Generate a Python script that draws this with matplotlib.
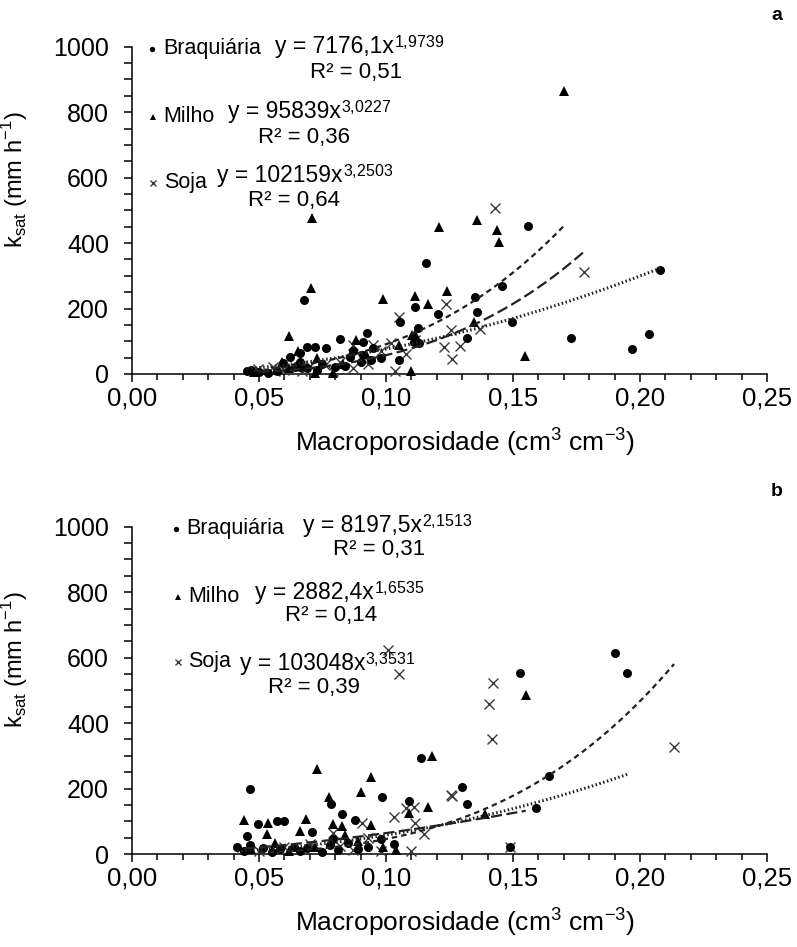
import matplotlib
matplotlib.use('Agg')
import matplotlib.pyplot as plt
import numpy as np
from matplotlib.ticker import MultipleLocator, FuncFormatter

plt.rcParams['font.family'] = ['Liberation Sans', 'DejaVu Sans']

# ---- data, panel a ----
brac_a_x = [0.208, 0.156, 0.1455, 0.135, 0.1357, 0.1495, 0.1318, 0.1728, 0.197, 0.2035,
            0.0678, 0.069, 0.072, 0.0765, 0.082, 0.1156, 0.1116, 0.1203, 0.1057, 0.1124,
            0.0927, 0.105, 0.111, 0.113, 0.087, 0.091, 0.094, 0.086, 0.090, 0.066,
            0.069, 0.066, 0.0623, 0.0454, 0.047, 0.050, 0.0536, 0.0596, 0.064, 0.066,
            0.091, 0.098, 0.080, 0.057, 0.073, 0.075, 0.084, 0.095]
brac_a_y = [318, 453, 269, 235, 190, 159, 110, 110, 76, 122,
            226, 83, 83, 80, 107, 339, 205, 183, 159, 141,
            125, 43, 98, 95, 70, 58, 43, 52, 37, 64,
            18, 21, 52, 9, 12, 6, 3, 34, 21, 37,
            98, 50, 20, 10, 12, 30, 25, 80]
milho_a_x = [0.170, 0.136, 0.1436, 0.1443, 0.1346, 0.1547, 0.071, 0.0703, 0.0617, 0.0655,
             0.099, 0.1207, 0.1116, 0.1164, 0.124, 0.088, 0.1116, 0.110, 0.1104, 0.073,
             0.072, 0.079, 0.059, 0.062, 0.048, 0.083, 0.092, 0.105]
milho_a_y = [865, 471, 440, 404, 159, 55, 477, 263, 116, 70,
             229, 450, 238, 214, 254, 104, 122, 9, 119, 49,
             3, 2, 37, 18, 5, 30, 60, 90]
soja_a_x = [0.1428, 0.178, 0.137, 0.129, 0.126, 0.1255, 0.1235, 0.105, 0.1227, 0.1037,
            0.0947, 0.1018, 0.1116, 0.087, 0.076, 0.082, 0.087, 0.079, 0.0556, 0.0497,
            0.0564, 0.067, 0.060, 0.070, 0.093, 0.098, 0.108]
soja_a_y = [508, 312, 138, 86, 46, 134, 214, 174, 83, 9,
            89, 95, 104, 89, 28, 37, 18, 9, 21, 15,
            9, 9, 12, 25, 30, 70, 60]

# ---- data, panel b ----
brac_b_x = [0.190, 0.195, 0.1527, 0.164, 0.130, 0.132, 0.159, 0.149, 0.1136, 0.0466,
            0.0986, 0.0785, 0.1089, 0.0825, 0.0876, 0.0497, 0.0572, 0.060, 0.071, 0.0453,
            0.079, 0.0414, 0.0466, 0.0517, 0.0584, 0.0636, 0.069, 0.078, 0.081, 0.089,
            0.093, 0.044, 0.055, 0.066, 0.075, 0.085, 0.098, 0.103]
brac_b_y = [615, 553, 553, 238, 205, 153, 141, 21, 294, 199,
            174, 153, 162, 122, 104, 92, 101, 102, 67, 55,
            46, 21, 28, 18, 15, 21, 18, 28, 12, 15,
            21, 8, 6, 8, 5, 35, 45, 30]
milho_b_x = [0.155, 0.139, 0.1183, 0.073, 0.094, 0.0903, 0.0777, 0.109, 0.1164, 0.094,
             0.0442, 0.0537, 0.0686, 0.0663, 0.0532, 0.0793, 0.0828, 0.084, 0.0564, 0.104,
             0.099, 0.047, 0.062, 0.072, 0.089]
milho_b_y = [486, 122, 300, 260, 235, 190, 174, 125, 144, 89,
             104, 95, 107, 70, 61, 92, 86, 58, 34, 12,
             21, 15, 10, 20, 40]
soja_b_x = [0.142, 0.1404, 0.1416, 0.2134, 0.149, 0.126, 0.1006, 0.105, 0.1254, 0.1077,
            0.111, 0.103, 0.0907, 0.1116, 0.079, 0.098, 0.110, 0.087, 0.060, 0.070,
            0.082, 0.050, 0.093, 0.115]
soja_b_y = [523, 459, 352, 327, 21, 177, 624, 550, 180, 141,
            144, 113, 95, 95, 64, 9, 9, 12, 20, 30,
            25, 10, 50, 60]

# power fits y = a*x^b printed on the chart
fit_a = {'brac': (7176.1, 1.9739), 'milho': (95839, 3.0227), 'soja': (102159, 3.2503)}
fit_b = {'brac': (8197.5, 2.1513), 'milho': (2882.4, 1.6535), 'soja': (103048, 3.3531)}
eq_a = {'brac': ('y = 7176,1x', '1{,}9739', 'R² = 0,51'),
        'milho': ('y = 95839x', '3{,}0227', 'R² = 0,36'),
        'soja': ('y = 102159x', '3{,}2503', 'R² = 0,64')}
eq_b = {'brac': ('y = 8197,5x', '2{,}1513', 'R² = 0,31'),
        'milho': ('y = 2882,4x', '1{,}6535', 'R² = 0,14'),
        'soja': ('y = 103048x', '3{,}3531', 'R² = 0,39')}
names = {'brac': 'Braquiária', 'milho': 'Milho', 'soja': 'Soja'}

fig = plt.figure(figsize=(7.97, 9.47), dpi=100)
ax1 = fig.add_axes([0.1656, 0.6051, 0.7968, 0.3456])
ax2 = fig.add_axes([0.1656, 0.0982, 0.7968, 0.3456])

dot = (0, (0.5, 0.8))
short = (0, (2.5, 1.8))
longd = (0, (5, 2))

mk = dict(brac=dict(marker='o', ms=6.5, mfc='black', mec='black', mew=0),
          milho=dict(marker='^', ms=7, mfc='black', mec='black', mew=0),
          soja=dict(marker='x', ms=6.5, mfc='none', mec='#3a3a3a', mew=1.0))


def panel(ax, data, fits, eqs, styles, txtpos):
    for key in ['soja', 'milho', 'brac']:
        x, y = data[key]
        ax.plot(x, y, ls='none', clip_on=False, zorder=3, **mk[key])
    for key in ['brac', 'milho', 'soja']:
        x, y = data[key]
        a, b = fits[key]
        xs = np.linspace(min(x), max(x), 200)
        lw = 2.2 if styles[key] == dot else 1.6
        ax.plot(xs, a * xs ** b, color='#222222', lw=lw, ls=styles[key], zorder=4)

    ax.set_xlim(0, 0.25)
    ax.set_ylim(0, 1000)
    ax.spines['top'].set_visible(False)
    ax.spines['right'].set_visible(False)
    for s in ['left', 'bottom']:
        ax.spines[s].set_linewidth(1.1)
    ax.xaxis.set_major_locator(MultipleLocator(0.05))
    ax.xaxis.set_minor_locator(MultipleLocator(0.01))
    ax.yaxis.set_major_locator(MultipleLocator(200))
    ax.yaxis.set_minor_locator(MultipleLocator(50))
    ax.xaxis.set_major_formatter(FuncFormatter(lambda v, p: f'{v:.2f}'.replace('.', ',')))
    ax.tick_params(axis='x', which='major', direction='out', length=6, width=1.1,
                   labelsize=18.5, pad=3)
    ax.tick_params(axis='x', which='minor', direction='out', length=4.3, width=1.1)
    ax.tick_params(axis='y', which='both', direction='out', length=5.5, width=1.1)
    ax.tick_params(axis='y', which='major', labelsize=18, pad=11)

    ax.set_ylabel(r'k$_{\mathregular{sat}}$ (mm h$^{\mathregular{-1}}$)', fontsize=17)
    ax.yaxis.set_label_coords(-0.16, 0.593)
    ax.set_xlabel(r'Macroporosidade (cm$^{\mathregular{3}}$ cm$^{\mathregular{-3}}$)',
                  fontsize=19)
    ax.xaxis.set_label_coords(0.524, -0.156)

    for key in ['brac', 'milho', 'soja']:
        p = txtpos[key]
        m = dict(mk[key])
        m['ms'] = m['ms'] * 0.6
        ax.plot([p[0]], [p[1]], transform=ax.transAxes, clip_on=False, **m)
        ax.text(p[0] + 0.017, p[1], names[key], transform=ax.transAxes,
                fontsize=15.5, va='center', ha='left')
        base, sup, r2 = eqs[key]
        t = ax.text(p[2], p[3], base, transform=ax.transAxes, fontsize=16.5,
                    va='center', ha='left')
        ax.annotate(r'$\mathregular{' + sup + '}$', xy=(1, 1), xycoords=t,
                    xytext=(0, 1.5), textcoords='offset points',
                    fontsize=11.5, va='top', ha='left')
        ax.text(p[4], p[5], r2, transform=ax.transAxes, fontsize=16,
                va='center', ha='left')


panel(ax1,
      {'brac': (brac_a_x, brac_a_y), 'milho': (milho_a_x, milho_a_y), 'soja': (soja_a_x, soja_a_y)},
      fit_a, eq_a, {'brac': dot, 'milho': short, 'soja': longd},
      {'brac': (0.0315, 0.994, 0.225, 1.0, 0.280, 0.920),
       'milho': (0.033, 0.786, 0.151, 0.803, 0.198, 0.723),
       'soja': (0.033, 0.584, 0.134, 0.606, 0.183, 0.531)})
panel(ax2,
      {'brac': (brac_b_x, brac_b_y), 'milho': (milho_b_x, milho_b_y), 'soja': (soja_b_x, soja_b_y)},
      fit_b, eq_b, {'brac': dot, 'milho': longd, 'soja': short},
      {'brac': (0.069, 0.994, 0.269, 1.003, 0.317, 0.930),
       'milho': (0.072, 0.786, 0.194, 0.800, 0.241, 0.730),
       'soja': (0.072, 0.587, 0.170, 0.582, 0.214, 0.508)})

fig.text(0.982, 0.984, 'a', fontsize=14, fontweight='bold', ha='right', va='center')
fig.text(0.982, 0.481, 'b', fontsize=14, fontweight='bold', ha='right', va='center')

fig.savefig('out.png', dpi=100)
